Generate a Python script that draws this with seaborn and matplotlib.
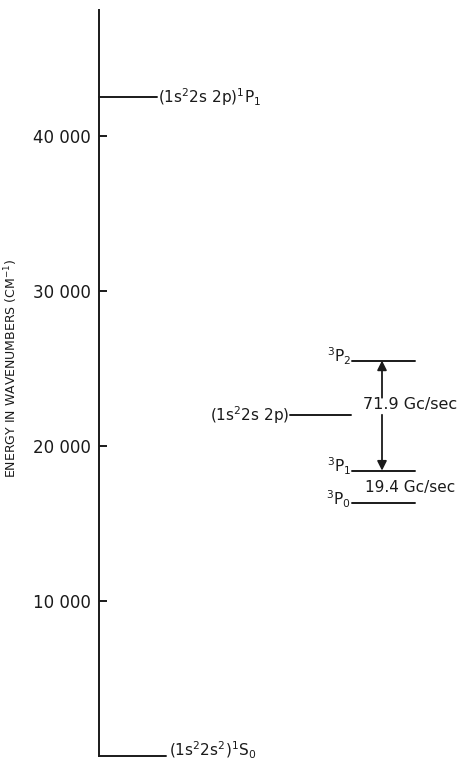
import pandas as pd
import seaborn as sns
import matplotlib.pyplot as plt

# Energy levels (cm^-1)
level_names = ["1S0", "1P1", "term", "3P2", "3P1", "3P0"]
level_energy = [0, 42500, 22000, 25500, 18400, 16300]
level_x0 = [0, 0, 191, 253, 253, 253]
level_x1 = [67, 58, 252, 316, 316, 316]

level_labels = [
    r"(1s$^2$2s$^2$)$^1$S$_0$",
    r"(1s$^2$2s 2p)$^1$P$_1$",
    r"(1s$^2$2s 2p)",
    r"$^3$P$_2$",
    r"$^3$P$_1$",
    r"$^3$P$_0$",
]

y_ticks = [10000, 20000, 30000, 40000]
y_tick_labels = ["10 000", "20 000", "30 000", "40 000"]

# fine-structure splittings
split_labels = ["71.9 Gc/sec", "19.4 Gc/sec"]

sns.set_style("ticks")
plt.rcParams["font.family"] = ["DejaVu Sans"]
plt.rcParams["mathtext.fontset"] = "dejavusans"

INK = "#1a1a1a"

rows = []
for name, e, a, b in zip(level_names, level_energy, level_x0, level_x1):
    rows.append({"level": name, "x": a, "energy": e})
    rows.append({"level": name, "x": b, "energy": e})
df = pd.DataFrame(rows)

fig = plt.figure(figsize=(4.66, 7.63), dpi=100)
ax = fig.add_axes([99 / 466, 7 / 763, 367 / 466, 746 / 763])

sns.lineplot(
    data=df, x="x", y="energy", units="level", estimator=None,
    color=INK, linewidth=1.4, ax=ax, legend=False,
)
for line in ax.lines:
    line.set_clip_on(False)

ax.set_xlim(0, 367)
ax.set_ylim(0, 48100)

sns.despine(ax=ax, top=True, right=True, bottom=True)
ax.spines["left"].set_linewidth(1.4)
ax.spines["left"].set_color(INK)
ax.set_xticks([])
ax.set_xlabel("")
ax.set_yticks(y_ticks)
ax.set_yticklabels(y_tick_labels, fontsize=12, color=INK)
ax.tick_params(axis="y", direction="in", length=6, width=1.4, pad=6, colors=INK)
ax.set_ylabel(r"ENERGY IN WAVENUMBERS (CM$^{-1}$)", fontsize=9, color=INK)
ax.yaxis.set_label_coords(-0.215, 0.52)

# level labels
e = dict(zip(level_names, level_energy))
x1 = dict(zip(level_names, level_x1))
x0 = dict(zip(level_names, level_x0))
lab = dict(zip(level_names, level_labels))
ax.text(x1["1S0"] + 3, e["1S0"] + 350, lab["1S0"], fontsize=11, ha="left", va="center", color=INK)
ax.text(x1["1P1"] + 1, e["1P1"], lab["1P1"], fontsize=11, ha="left", va="center", color=INK)
ax.text(x0["term"] - 1, e["term"], lab["term"], fontsize=11, ha="right", va="center", color=INK)
for k in ["3P2", "3P1", "3P0"]:
    ax.text(x0[k] - 1, e[k] + 250, lab[k], fontsize=11, ha="right", va="center", color=INK)

# arrows between 3P2 and 3P1
arrow_x = 283
arrow_kw = dict(arrowstyle="-|>", color=INK, lw=1.3, mutation_scale=14, shrinkA=0, shrinkB=0)
ax.annotate("", xy=(arrow_x, e["3P2"]), xytext=(arrow_x, 23100), arrowprops=arrow_kw)
ax.annotate("", xy=(arrow_x, e["3P1"]), xytext=(arrow_x, 22000), arrowprops=arrow_kw)
ax.text(264, 22650, split_labels[0], fontsize=11.5, ha="left", va="center", color=INK)
ax.text(266, 17300, split_labels[1], fontsize=11, ha="left", va="center", color=INK)

fig.savefig("out.png", dpi=100)
plt.close(fig)
